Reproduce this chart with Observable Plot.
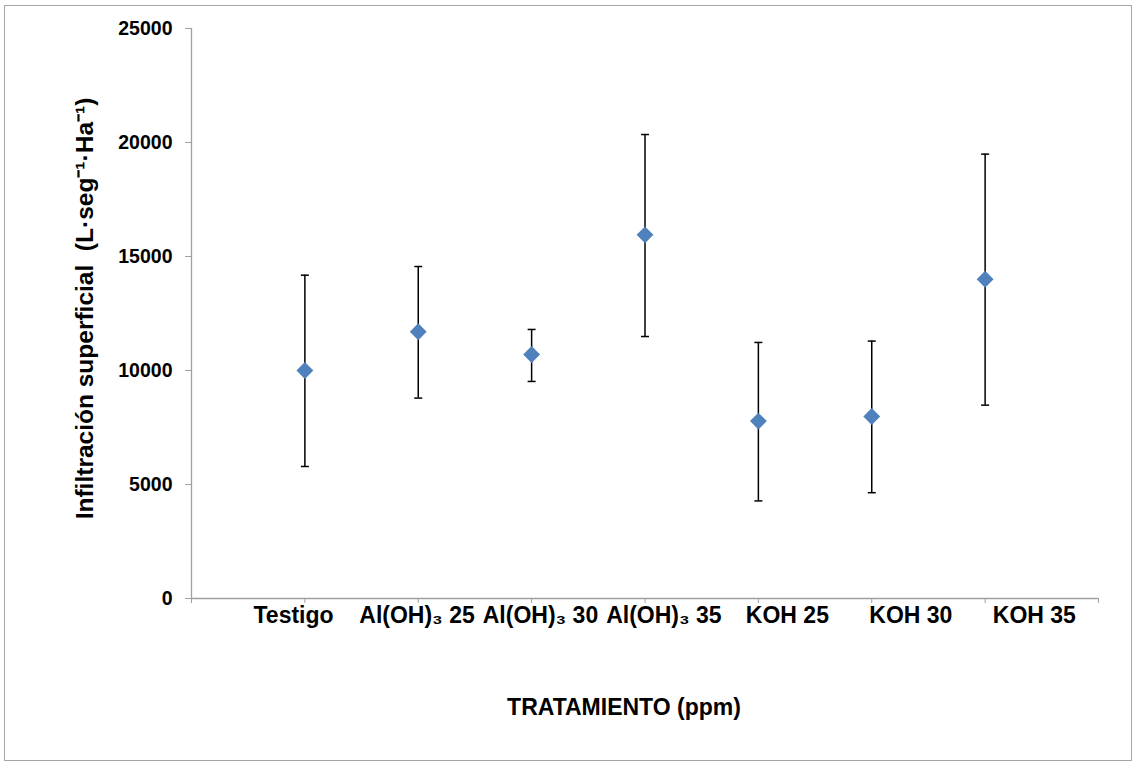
<!DOCTYPE html>
<html><head><meta charset="utf-8">
<script src="https://cdn.jsdelivr.net/npm/d3@7"></script>
<script src="https://cdn.jsdelivr.net/npm/@observablehq/plot@0.6"></script>
<style>
body{margin:0;background:#fff;}
#wrap{position:relative;width:1135px;height:761px;}
#border{position:absolute;left:4px;top:5px;width:1128px;height:756px;border:1px solid #a6a6a6;box-sizing:border-box;pointer-events:none;}
#chart{position:absolute;left:0;top:0;}
</style></head><body><div id="wrap"><div id="chart"></div><div id="border"></div></div>
<script>
const treatments = ["Testigo", "Al(OH)₃ 25", "Al(OH)₃ 30", "Al(OH)₃ 35", "KOH 25", "KOH 30", "KOH 35"];
const means = [10000, 11700, 10700, 15950, 7780, 7980, 14000];
const upper = [14180, 14560, 11800, 20350, 11230, 11290, 19490];
const lower = [5790, 8790, 9520, 11490, 4280, 4640, 8480];
const yTicks = [0, 5000, 10000, 15000, 20000, 25000];
const xTitle = "TRATAMIENTO (ppm)";
const yTitle = "Infiltración superficial  (L·seg⁻¹·Ha⁻¹)";

const rows = treatments.map((t, i) => ({t, pos: i + 1, mean: means[i], hi: upper[i], lo: lower[i]}));
const capSymbol = {draw(ctx, size) { const r = Math.sqrt(size / Math.PI); ctx.moveTo(-r, 0); ctx.lineTo(r, 0); }};
const axisGray = "#a0a0a0";
// category labels in the original are spread slightly wider than the tick spacing
const labelX = d => 0.9 + 1.089 * (d.pos - 1);

const chart = Plot.plot({
  width: 1135,
  height: 761,
  marginLeft: 191,
  marginRight: 37,
  marginTop: 28,
  marginBottom: 163,
  style: {fontFamily: "'Liberation Sans', Arial, sans-serif", background: "transparent"},
  x: {type: "linear", domain: [0, treatments.length + 1]},
  y: {domain: [0, 25000]},
  marks: [
    Plot.ruleX([0], {stroke: axisGray, strokeWidth: 1.3}),
    Plot.ruleY([0], {stroke: axisGray, strokeWidth: 1.3}),
    Plot.axisX({ticks: d3.range(0, treatments.length + 2), tickFormat: () => "", tickSize: 5, stroke: axisGray, label: null}),
    Plot.axisY({ticks: yTicks, tickFormat: d => String(d), tickSize: 6, tickPadding: 13, stroke: axisGray, fill: "black", fontSize: 19.5, fontWeight: "bold", label: null}),
    Plot.text(rows, {x: labelX, text: "t", frameAnchor: "bottom", lineAnchor: "middle", dy: 17, fontSize: 23, fontWeight: "bold", fill: "black"}),
    Plot.text([xTitle], {frameAnchor: "bottom", lineAnchor: "middle", dy: 109, dx: -21, fontSize: 23, fontWeight: "bold", fill: "black"}),
    Plot.text([yTitle], {frameAnchor: "left", textAnchor: "middle", lineAnchor: "middle", rotate: -90, dx: -106, dy: -5, fontSize: 24.5, fontWeight: "bold", fill: "black"}),
    Plot.ruleX(rows, {x: "pos", y1: "lo", y2: "hi", stroke: "black", strokeWidth: 1.5}),
    Plot.dot(rows, {x: "pos", y: "hi", symbol: capSymbol, r: 4, stroke: "black", strokeWidth: 1.5}),
    Plot.dot(rows, {x: "pos", y: "lo", symbol: capSymbol, r: 4, stroke: "black", strokeWidth: 1.5}),
    Plot.dot(rows, {x: "pos", y: "mean", symbol: "diamond2", r: 7.6, fill: "#4F81BD", stroke: null})
  ]
});
document.getElementById("chart").appendChild(chart);
</script>
</body></html>
